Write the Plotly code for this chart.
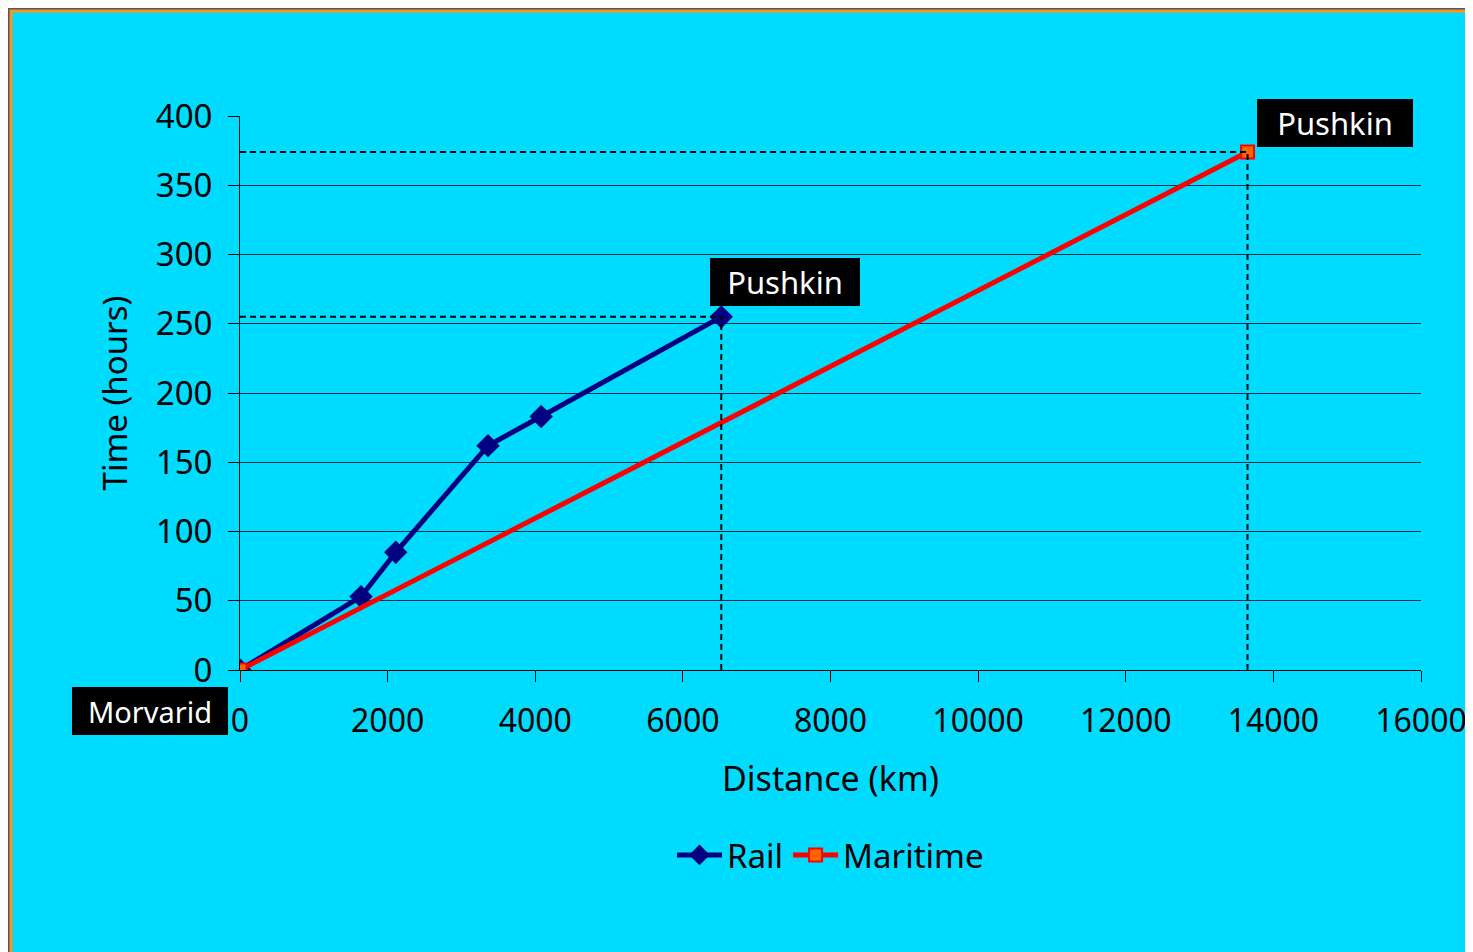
import plotly.graph_objects as go

# Data
rail_distance = [0, 1640, 2110, 3360, 4080, 6520]
rail_time = [0, 53, 85, 162, 183, 255]
maritime_distance = [0, 13650]
maritime_time = [0, 374]
series_names = ["Rail", "Maritime"]
origin_label = "Morvarid"
dest_label = "Pushkin"
x_ticks = [0, 2000, 4000, 6000, 8000, 10000, 12000, 14000, 16000]
y_ticks = [0, 50, 100, 150, 200, 250, 300, 350, 400]

FONT = "Noto Sans"
CYAN = "#00DCFF"

fig = go.Figure()

fig.add_trace(go.Scatter(
    x=rail_distance, y=rail_time, name=series_names[0], mode="lines+markers",
    line=dict(color="#000080", width=5),
    marker=dict(symbol="diamond", size=18, color="#000080"),
))
fig.add_trace(go.Scatter(
    x=maritime_distance, y=maritime_time, name=series_names[1], mode="lines+markers",
    line=dict(color="#FF0000", width=5),
    marker=dict(symbol="square", size=13, color="#FF6600",
                line=dict(color="#FF0000", width=2)),
))

shapes = []
# background panel (cyan with orange border)
shapes.append(dict(type="rect", xref="paper", yref="paper",
                   x0=(11 - 240) / 1181, x1=(1500 - 240) / 1181,
                   y0=(670 - 980) / 554, y1=(670 - 11) / 554,
                   fillcolor=CYAN, line=dict(color="#FF9410", width=3),
                   layer="below"))
# dashed guide lines
for (xd, yd) in [(rail_distance[-1], rail_time[-1]), (maritime_distance[-1], maritime_time[-1])]:
    shapes.append(dict(type="line", xref="x", yref="y", x0=0, x1=xd, y0=yd, y1=yd,
                       line=dict(color="black", width=2, dash="6px,4px")))
    shapes.append(dict(type="line", xref="x", yref="y", x0=xd, x1=xd, y0=0, y1=yd,
                       line=dict(color="black", width=2, dash="6px,4px")))

ann_font = dict(family=FONT, size=31, color="white")
annotations = [
    dict(x=rail_distance[-1], y=rail_time[-1], xref="x", yref="y", text=dest_label,
         showarrow=False, xanchor="left", yanchor="bottom", xshift=-11, yshift=11,
         bgcolor="black", font=ann_font, width=150, height=48, borderpad=0, borderwidth=0),
    dict(x=maritime_distance[-1], y=maritime_time[-1], xref="x", yref="y", text=dest_label,
         showarrow=False, xanchor="left", yanchor="bottom", xshift=9, yshift=5,
         bgcolor="black", font=ann_font, width=156, height=48, borderpad=0, borderwidth=0),
    dict(x=0, y=0, xref="x", yref="y", text=origin_label,
         showarrow=False, xanchor="right", yanchor="top", xshift=-12, yshift=-17,
         bgcolor="black", font=dict(family=FONT, size=29, color="white"),
         width=156, height=48, borderpad=0, borderwidth=0),
]

fig.update_layout(
    width=1473, height=952,
    margin=dict(l=232, r=60, t=108, b=290),
    paper_bgcolor="#4e5776",
    plot_bgcolor="rgba(0,0,0,0)",
    font=dict(family=FONT, size=33, color="black"),
    shapes=shapes,
    annotations=annotations,
    showlegend=True,
    legend=dict(orientation="h", x=0.5, xanchor="center", y=(670 - 855) / 554,
                yanchor="middle", bgcolor="rgba(0,0,0,0)", itemwidth=45,
                font=dict(family=FONT, size=33, color="black")),
    xaxis=dict(
        range=[0, 16000], tickvals=x_ticks, ticktext=[str(v) for v in x_ticks],
        showgrid=False, zeroline=False, showline=True, linecolor="black", linewidth=1,
        ticks="outside", ticklen=11, tickcolor="black", tickwidth=1,
        ticklabelstandoff=12, tickfont=dict(size=32),
        title=dict(text="Distance (km)", standoff=26, font=dict(size=34)),
        automargin=False,
    ),
    yaxis=dict(
        range=[0, 400], tickvals=y_ticks, ticktext=[str(v) for v in y_ticks],
        showgrid=True, gridcolor="#083440", gridwidth=1,
        zeroline=False, showline=True, linecolor="black", linewidth=1,
        ticks="outside", ticklen=11, tickcolor="black", tickwidth=1,
        ticklabelstandoff=9, tickfont=dict(size=33),
        title=dict(text="Time (hours)", standoff=18, font=dict(size=33)),
        automargin=False,
    ),
)

fig.write_html("out.html")
